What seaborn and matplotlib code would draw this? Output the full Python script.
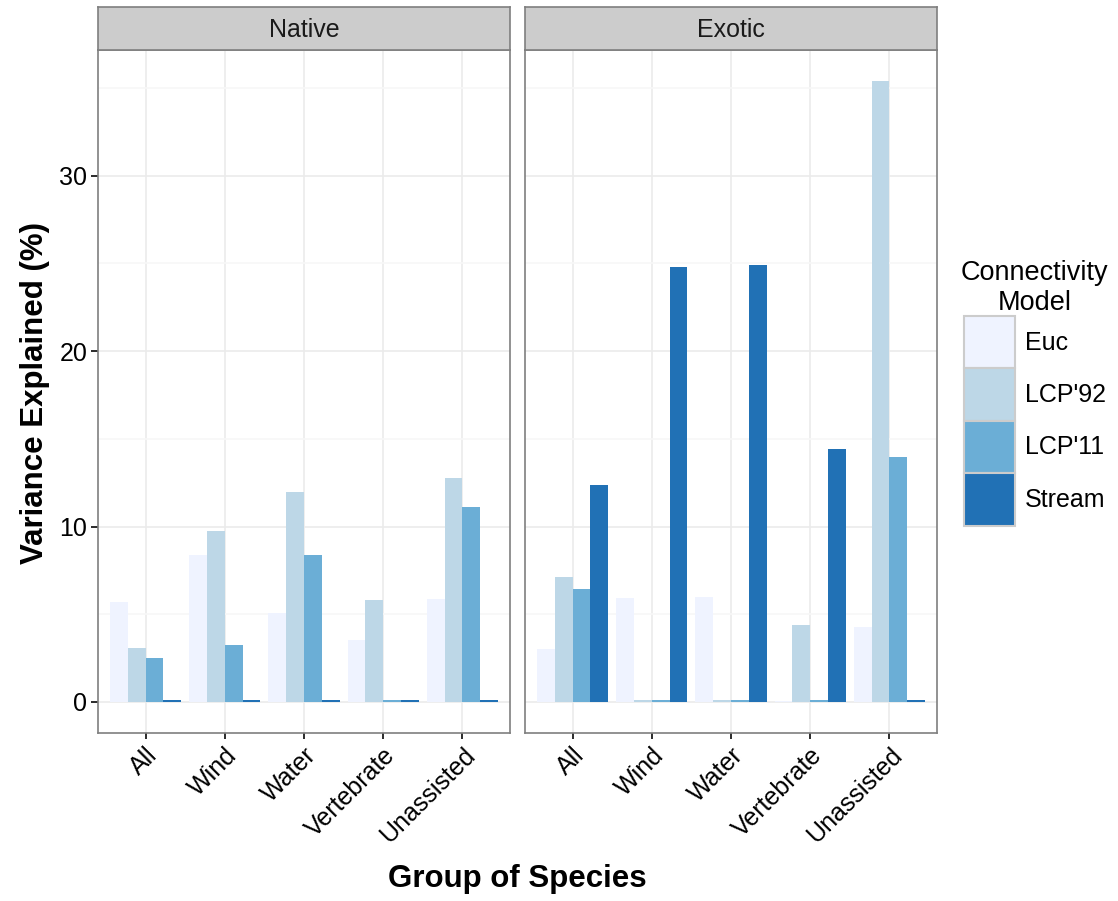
import numpy as np
import pandas as pd
import matplotlib
matplotlib.use("Agg")
import matplotlib.pyplot as plt
import seaborn as sns
from matplotlib.patches import Patch

# ---------------- data ----------------
groups = ["All", "Wind", "Water", "Vertebrate", "Unassisted"]
models = ["Euc", "LCP'92", "LCP'11", "Stream"]
origins = ["Native", "Exotic"]

native_euc = [5.72, 8.40, 5.09, 3.56, 5.89]
native_lcp92 = [3.10, 9.76, 11.99, 5.83, 12.78]
native_lcp11 = [2.53, 3.27, 8.40, 0.10, 11.14]
native_stream = [0.10, 0.10, 0.10, 0.10, 0.10]

exotic_euc = [3.04, 5.95, 6.00, 0.06, 4.30]
exotic_lcp92 = [7.14, 0.10, 0.10, 4.41, 35.40]
exotic_lcp11 = [6.46, 0.10, 0.10, 0.10, 13.98]
exotic_stream = [12.39, 24.77, 24.89, 14.43, 0.10]

colors = ["#EFF3FF", "#BDD7E7", "#6BAED6", "#2171B5"]

values = {
    "Native": [native_euc, native_lcp92, native_lcp11, native_stream],
    "Exotic": [exotic_euc, exotic_lcp92, exotic_lcp11, exotic_stream],
}
rows = []
for o in origins:
    for m, vals in zip(models, values[o]):
        for g, v in zip(groups, vals):
            rows.append({"origin": o, "model": m, "group": g, "value": v})
df = pd.DataFrame(rows)

# ---------------- styling ----------------
sns.set_style("white")
plt.rcParams["font.family"] = ["Liberation Sans", "DejaVu Sans"]
plt.rcParams["text.color"] = "black"
plt.rcParams["axes.labelcolor"] = "black"

W, H = 1118, 901
fig = plt.figure(figsize=(W / 100, H / 100), dpi=100)

def fx(px):
    return px / W

def fy(py):
    return 1 - py / H

panel_top, panel_bot = 50, 733
strip_top = 7
lefts = [98, 525]
pw = 412
border = "#7F7F7F"
ymin, ymax = -1.77, 37.17
fs = 18

axes = []
for i, o in enumerate(origins):
    L = lefts[i]
    ax = fig.add_axes([fx(L), fy(panel_bot), fx(pw), (panel_bot - panel_top) / H])
    sub = df[df["origin"] == o]
    sns.barplot(data=sub, x="group", y="value", hue="model", order=groups,
                hue_order=models, palette=colors, width=0.9, gap=0,
                saturation=1, linewidth=0, edgecolor="none", errorbar=None,
                legend=False, ax=ax)
    ax.set_xlim(-0.6, 4.6)
    ax.set_ylim(ymin, ymax)
    ax.set_yticks([0, 10, 20, 30])
    ax.set_yticks([5, 15, 25, 35], minor=True)
    ax.set_axisbelow(True)
    ax.grid(True, which="major", color="#EBEBEB", linewidth=1.2)
    ax.grid(True, which="minor", axis="y", color="#F7F7F7", linewidth=1.2)
    for s in ax.spines.values():
        s.set_visible(True)
        s.set_color(border)
        s.set_linewidth(1.2)
    ax.set_xlabel("")
    ax.set_ylabel("")
    ax.tick_params(axis="x", which="major", length=4.5, width=1.3, color="#1A1A1A",
                   direction="out", bottom=True, pad=3)
    ax.tick_params(axis="y", which="minor", length=0)
    ax.set_xticks(range(len(groups)))
    ax.set_xticklabels(groups, rotation=45, ha="right", va="top",
                       rotation_mode="anchor", fontsize=fs, color="black")
    if i == 0:
        ax.tick_params(axis="y", which="major", length=4.8, width=1.3, color="#1A1A1A",
                       direction="out", left=True, labelsize=fs, labelcolor="black", pad=3)
    else:
        ax.tick_params(axis="y", which="major", length=0, left=False, labelleft=False)
    axes.append(ax)

    # facet strip
    sax = fig.add_axes([fx(L), fy(panel_top), fx(pw), (panel_top - strip_top) / H])
    sax.set_facecolor("#CCCCCC")
    sax.set_xticks([])
    sax.set_yticks([])
    for s in sax.spines.values():
        s.set_visible(True)
        s.set_color(border)
        s.set_linewidth(1.2)
    sax.text(0.5, 0.31, o, ha="center", va="baseline", fontsize=fs, color="#1A1A1A",
             transform=sax.transAxes)

# axis titles
fig.text(fx(517), fy(879), "Group of Species", ha="center", va="center",
         fontsize=22.5, fontweight="bold", color="black")
fig.text(fx(35), fy(393), "Variance Explained (%)", ha="center", va="center",
         rotation=90, fontsize=22.5, fontweight="bold", color="black")

# legend
handles = [Patch(facecolor=c, edgecolor="#CCCCCC", linewidth=1.5) for c in colors]
leg = fig.legend(handles, models, loc="upper left",
                 bbox_to_anchor=(fx(951), fy(250)), frameon=False,
                 fontsize=fs, title="Connectivity\nModel", title_fontsize=19.5,
                 handlelength=2.05, handleheight=2.85, labelspacing=0.0,
                 handletextpad=0.4, borderaxespad=0, labelcolor="black")
leg.get_title().set_ha("center")
leg.get_title().set_color("black")
leg._legend_box.align = "center"

fig.savefig("out.png", dpi=100)
